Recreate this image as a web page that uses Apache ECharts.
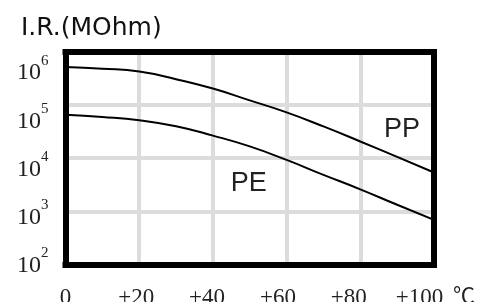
<!DOCTYPE html>
<html>
<head>
<meta charset="utf-8">
<script src="https://cdn.jsdelivr.net/npm/echarts@6/dist/echarts.min.js"></script>
<style>
html, body { margin: 0; padding: 0; background: #fff; }
#chart { width: 481px; height: 302px; }
</style>
</head>
<body>
<div id="chart"></div>
<script>
// temperature (deg C) and insulation resistance (MOhm)
var temps = [0, 10, 20, 30, 40, 50, 60, 70, 80, 90, 100];
var ppIR = [5.2e5, 4.85e5, 4.3e5, 3.08e5, 2.05e5, 1.23e5, 7.3e4, 3.97e4, 2.07e4, 1.06e4, 5.4e3];
var peIR = [6.6e4, 6.0e4, 5.2e4, 4.0e4, 2.67e4, 1.67e4, 9.3e3, 4.87e3, 2.6e3, 1.33e3, 6.9e2];

// tick labels
var xTicks = [0, 20, 40, 60, 80, 100];
var yExps = [2, 3, 4, 5, 6];

// where the curve names sit (data coords)
var ppLabelAt = [91.3, 3.4e4];
var peLabelAt = [49.7, 3.3e3];

var serif = '"Liberation Serif", "Noto Sans CJK SC", serif';
var gridGray = '#dcdcdc';

var chart = echarts.init(document.getElementById('chart'));

function frame(show) {
    return {
        show: show,
        onZero: false,
        lineStyle: { color: '#000', width: 6, cap: 'square' }
    };
}

function curve(name, values, labelAt) {
    return {
        name: name,
        type: 'line',
        xAxisIndex: 0,
        yAxisIndex: 0,
        smooth: 0.5,
        symbol: 'none',
        lineStyle: { color: '#000', width: 2 },
        data: temps.map(function (t, i) { return [t, values[i]]; }),
        markPoint: {
            symbol: 'circle',
            symbolSize: 1,
            itemStyle: { color: 'rgba(0,0,0,0)' },
            label: {
                show: true,
                position: 'inside',
                formatter: name,
                fontFamily: '"Liberation Sans", Arial, sans-serif',
                fontSize: 27,
                color: '#222'
            },
            data: [{ coord: labelAt }]
        }
    };
}

var option = {
    animation: false,
    title: {
        text: 'I.R.(MOhm)',
        left: 16,
        top: 11,
        textStyle: {
            fontFamily: '"DejaVu Sans", sans-serif',
            fontSize: 25,
            fontWeight: 'normal',
            color: '#111'
        }
    },
    grid: { left: 65.5, right: 47, top: 52, bottom: 37.5, outerBoundsMode: 'none' },
    xAxis: [
        {
            // data axis, draws the vertical grid lines
            type: 'value', min: 0, max: 100, interval: 20,
            axisLine: frame(false), axisTick: { show: false }, axisLabel: { show: false },
            splitLine: { lineStyle: { color: gridGray, width: 4 } }
        },
        {
            // bottom frame + tick labels
            type: 'value', position: 'bottom', min: 0, max: 104.1, interval: 20, z: 3,
            axisLine: frame(true), axisTick: { show: false }, splitLine: { show: false },
            axisLabel: {
                margin: 22,
                showMaxLabel: false,
                fontFamily: serif,
                fontSize: 23,
                color: '#222',
                formatter: function (v) {
                    if (xTicks.indexOf(v) < 0) return '';
                    return v === 0 ? '0' : '+' + v;
                }
            },
            name: '℃',
            nameLocation: 'end',
            nameGap: 19,
            nameTextStyle: {
                fontFamily: serif,
                fontSize: 22,
                color: '#222',
                verticalAlign: 'top',
                padding: [22, 0, 0, 0]
            }
        },
        {
            // top frame
            type: 'value', position: 'top', min: 0, max: 100, z: 3,
            axisLine: frame(true), axisTick: { show: false }, axisLabel: { show: false },
            splitLine: { show: false }
        }
    ],
    yAxis: [
        {
            // data axis (log), draws the horizontal grid lines
            type: 'log', logBase: 10, min: 100, max: 1e6,
            axisLine: frame(false), axisTick: { show: false }, axisLabel: { show: false },
            splitLine: { lineStyle: { color: gridGray, width: 4 } }
        },
        {
            // left frame + power-of-ten labels
            type: 'value', position: 'left', min: 2, max: 6.42, interval: 1, z: 3,
            axisLine: frame(true), axisTick: { show: false }, splitLine: { show: false },
            axisLabel: {
                margin: 17,
                showMaxLabel: false,
                padding: [0, 0, 6, 0],
                formatter: function (v) {
                    if (yExps.indexOf(v) < 0) return '';
                    return '{b|10}{s|' + v + '}';
                },
                rich: {
                    b: { fontFamily: serif, fontSize: 24, lineHeight: 32, color: '#222', verticalAlign: 'bottom' },
                    s: { fontFamily: serif, fontSize: 15, lineHeight: 15, color: '#222', verticalAlign: 'top' }
                }
            }
        },
        {
            // right frame
            type: 'value', position: 'right', min: 0, max: 1, z: 3,
            axisLine: frame(true), axisTick: { show: false }, axisLabel: { show: false },
            splitLine: { show: false }
        }
    ],
    series: [
        curve('PP', ppIR, ppLabelAt),
        curve('PE', peIR, peLabelAt)
    ]
};

chart.setOption(option);
</script>
</body>
</html>
